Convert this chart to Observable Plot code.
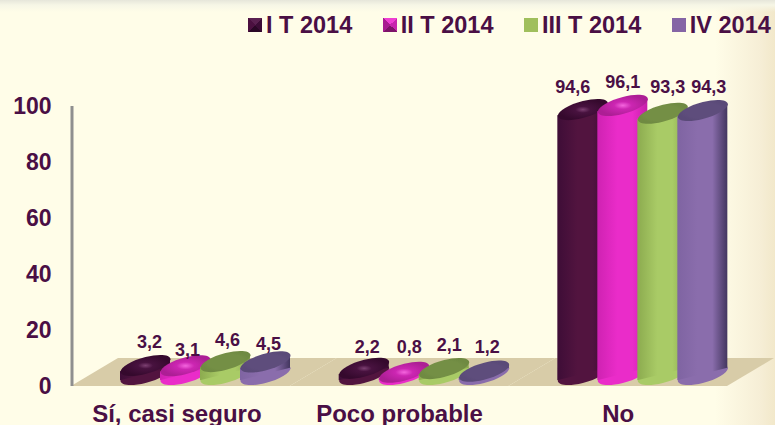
<!DOCTYPE html>
<html><head><meta charset="utf-8">
<script src="https://cdn.jsdelivr.net/npm/d3@7"></script>
<script src="https://cdn.jsdelivr.net/npm/@observablehq/plot@0.6"></script>
<style>
html,body{margin:0;padding:0;width:775px;height:425px;overflow:hidden}
#wrap{position:relative;width:775px;height:425px;font-family:"Liberation Sans",Arial,sans-serif;
 background:
  linear-gradient(to bottom,#e6e6da 0,#f6f6e6 5px,rgba(255,253,232,0) 12px),
  linear-gradient(to right,rgba(255,253,232,0) 0,rgba(255,253,232,0) 715px,#f6eed6 760px,#f2e8ca 775px),
  #fffde8;}
#legend{position:absolute;left:248px;top:11px;display:flex;color:#4a0f45;font-weight:bold;font-size:23.5px;line-height:28px;white-space:nowrap}
#legend .item{display:flex;align-items:center;margin-right:30.5px}
#legend .sw{width:14px;height:14px;margin-right:4px}
svg{position:absolute;left:0;top:0;background:transparent!important}
</style></head>
<body><div id="wrap"><div id="legend"></div></div>
<script>
const groups = ["Sí, casi seguro", "Poco probable", "No"];
const series = ["I T 2014", "II T 2014", "III T 2014", "IV 2014"];
const t1 = [3.2, 2.2, 94.6];
const t2 = [3.1, 0.8, 96.1];
const t3 = [4.6, 2.1, 93.3];
const t4 = [4.5, 1.2, 94.3];
const yTicks = [0, 20, 40, 60, 80, 100];

const values = [t1, t2, t3, t4];
const rows = series.flatMap((s, i) => groups.map((g, j) => ({series: s, group: g, value: values[i][j], si: i, gi: j})));

// Look of each series: shades across the cylinder, and the radial stops of its top face
const looks = [
  {l:"#3e0d37", m:"#52143f", r:"#3a0b33", stops:[[0,"#7d4072"],[.3,"#48123f"],[1,"#35092d"]], sw:["#5a2050","#3c0c36","#2a0726","#4b1040"]},
  {l:"#cf22b2", m:"#ea2cc9", r:"#c61fa9", stops:[[0,"#f465de"],[.35,"#cc26b2"],[1,"#ad1e95"]], sw:["#ee3fd2","#c724ac","#7d1468","#a81c90"]},
  {l:"#8cab4f", m:"#a9cb66", r:"#8aa64e", stops:[[0,"#748f45"],[.75,"#748f45"],[1,"#6f8a42"]], sw:["#a0bf5c","#a0bf5c","#a0bf5c","#a0bf5c"]},
  {l:"#7f64a2", m:"#8a6dac", r:"#43365f", stops:[[0,"#5e4d7c"],[.75,"#5e4d7c"],[1,"#5a4a78"]], sw:["#8565a5","#8565a5","#8565a5","#8565a5"]}
];
// hand placement of the value labels, as in the reference
const nudgeX = [[4,3,-10],[2,5,0],[2,5,5],[3,3,6]];
const nudgeY = [[-23,-21,-22],[-16,-25,-23],[-21,-23,-26],[-18,-24,-23]];

const ink = "#4a0f45";
const shear = 0.25;
const disc = {draw(ctx, size) {
  const a = Math.sqrt(size / Math.PI), b = a * 0.34, k = 0.5523;
  const p = (x, y) => [x, y - shear * x];
  const c = (x1,y1,x2,y2,x,y) => ctx.bezierCurveTo(...p(x1,y1),...p(x2,y2),...p(x,y));
  ctx.moveTo(...p(a,0));
  c(a,k*b,k*a,b,0,b); c(-k*a,b,-a,k*b,-a,0); c(-a,-k*b,-k*a,-b,0,-b); c(k*a,-b,a,-k*b,a,0);
  ctx.closePath();
}};
const skewBar = (index, scales, vals, dims, ctx, next) => {
  const g = next(index, scales, vals, dims, ctx);
  const deg = Math.atan(shear) * 180 / Math.PI;
  d3.select(g).selectAll("rect").attr("transform", function() {
    const cx = +this.getAttribute("x") + +this.getAttribute("width") / 2;
    return `translate(${cx},0) skewY(${-deg}) translate(${-cx},0)`;
  });
  return g;
};
const skewFloor = (index, scales, vals, dims, ctx, next) => {
  const g = next(index, scales, vals, dims, ctx);
  d3.select(g).selectAll("rect").attr("transform", function() {
    const y0 = +this.getAttribute("y") + +this.getAttribute("height");
    return `translate(0,${y0}) skewX(-59.2) translate(0,${-y0})`;
  });
  return g;
};

const common = {fx: "group", x: "series", dx: 25, dy: -12};
const cylinders = series.flatMap((s, i) => {
  const d = rows.filter(r => r.si === i);
  return [
    Plot.dot(d, {...common, y: () => 0, r: 25, symbol: disc, fill: looks[i].m, stroke: "none"}),
    Plot.barY(d, {...common, y: "value", fill: `url(#body${i})`, insetLeft: -5, insetRight: -5, render: skewBar}),
    Plot.dot(d, {...common, y: "value", r: 25, symbol: disc, fill: `url(#top${i})`, stroke: "none"})
  ];
});
const labels = rows.map(r => Plot.text([r], {
  fx: "group", x: "series", y: "value", text: d => String(d.value).replace(".", ","),
  dx: 25 + nudgeX[r.si][r.gi], dy: -12 + nudgeY[r.si][r.gi],
  fontSize: 18, fontWeight: "bold", fill: ink
}));
const fxAxis = {anchor: "bottom", tickSize: 0, tickPadding: 18, label: null, fontSize: 24, fontWeight: "bold", fill: ink};

const plot = Plot.plot({
  width: 775, height: 425,
  marginLeft: 71, marginRight: 48, marginTop: 106, marginBottom: 39,
  style: {fontFamily: '"Liberation Sans",Arial,sans-serif', background: "transparent", overflow: "visible"},
  fx: {domain: groups, padding: 0, round: false, label: null},
  x: {domain: series, range: [100, 260], padding: 0, round: false, axis: null},
  y: {domain: [0, 100], range: [386, 106], label: null},
  marks: [
    Plot.rectY(groups, {fx: d => d, y1: () => 0, y2: () => 10, fill: "#d8cca8", render: skewFloor}),
    Plot.ruleX(groups.slice(0, 1), {fx: d => d, x: () => series[0], dx: -48.5, y1: () => 0, y2: () => 100, stroke: "#8f8f8f", strokeWidth: 3}),
    Plot.axisY({ticks: yTicks, tickSize: 0, tickPadding: 20, label: null, fontSize: 23, fontWeight: "bold", fill: ink, tickFormat: d => d}),
    Plot.axisFx({...fxAxis, ticks: groups.slice(0, 1), dx: -4}),
    Plot.axisFx({...fxAxis, ticks: groups.slice(1)}),
    ...cylinders,
    ...labels
  ]
});

const defs = d3.select(plot).insert("defs", ":first-child");
looks.forEach((k, i) => {
  const lg = defs.append("linearGradient").attr("id", `body${i}`);
  [[0,k.l],[.4,k.m],[.7,k.m],[1,k.r]].forEach(([o,c]) => lg.append("stop").attr("offset", o).attr("stop-color", c));
  const rg = defs.append("radialGradient").attr("id", `top${i}`);
  k.stops.forEach(([o,c]) => rg.append("stop").attr("offset", o).attr("stop-color", c));
});
document.getElementById("wrap").appendChild(plot);

const legend = d3.select("#legend");
series.forEach((s, i) => {
  const it = legend.append("div").attr("class", "item");
  const [t, r, b, l] = looks[i].sw;
  it.append("div").attr("class", "sw").style("background",
    `conic-gradient(from -45deg, ${t} 0 25%, ${r} 0 50%, ${b} 0 75%, ${l} 0 100%)`);
  it.append("span").text(s);
});
</script></body></html>
